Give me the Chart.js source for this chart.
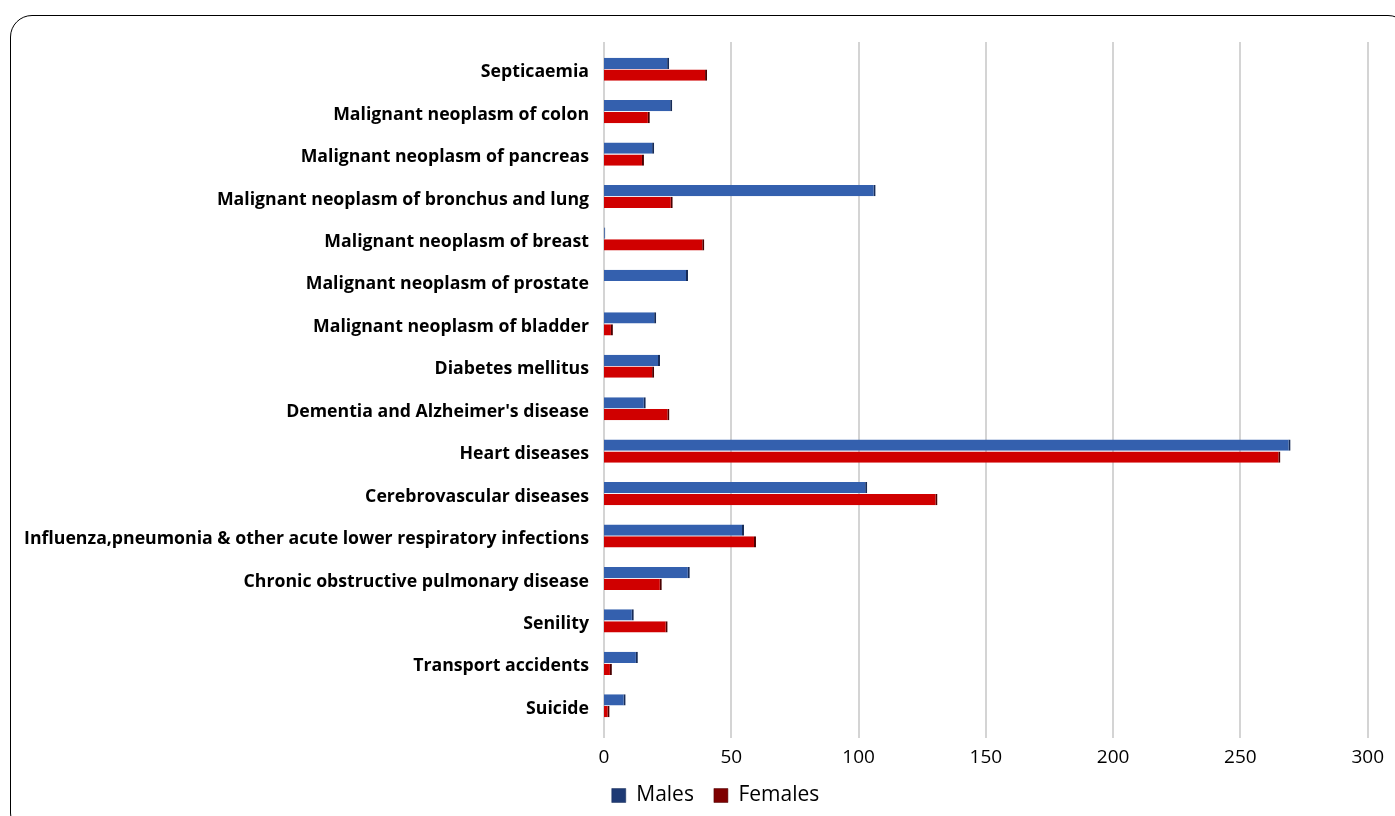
<!DOCTYPE html>
<html lang="en">
<head>
    <meta charset="UTF-8">
    <title>Causes of death by sex</title>
    <script src="https://cdn.jsdelivr.net/npm/chart.js"></script>
    <style>
        html, body { margin: 0; padding: 0; background: #fff; }
        .frame {
            position: absolute; left: 10px; top: 15px; width: 1400px; height: 820px;
            border: 1.5px solid #000; border-radius: 22px; box-sizing: border-box;
        }
        .wrap { position: absolute; left: 0; top: 0; width: 1395px; height: 816px; }
    </style>
</head>
<body>
    <div class="frame"></div>
    <div class="wrap"><canvas id="deathChart"></canvas></div>

    <script>
        const causes = [
            "Septicaemia",
            "Malignant neoplasm of colon",
            "Malignant neoplasm of pancreas",
            "Malignant neoplasm of bronchus and lung",
            "Malignant neoplasm of breast",
            "Malignant neoplasm of prostate",
            "Malignant neoplasm of bladder",
            "Diabetes mellitus",
            "Dementia and Alzheimer's disease",
            "Heart diseases",
            "Cerebrovascular diseases",
            "Influenza,pneumonia & other acute lower respiratory infections",
            "Chronic obstructive pulmonary disease",
            "Senility",
            "Transport accidents",
            "Suicide"
        ];
        const males =   [25.6, 26.8, 19.7, 106.7, 0.5, 33, 20.5, 22, 16.4, 269.7, 103.4, 55, 33.7, 11.7, 13.3, 8.5];
        const females = [40.5, 18, 15.7, 27, 39.4, 0, 3.5, 19.7, 25.7, 265.7, 131, 59.7, 22.7, 25, 3.1, 2.2];
        const xTicks = [0, 50, 100, 150, 200, 250, 300];

        // vertical 3D-ish shading: light top rim, body, dark bottom
        function barFill(rim, body, dark) {
            return function (ctx) {
                const el = ctx.element;
                if (!el || el.y === undefined || !el.height) return body;
                const top = el.y - el.height / 2, bottom = el.y + el.height / 2;
                const g = ctx.chart.ctx.createLinearGradient(0, top, 0, bottom);
                g.addColorStop(0, rim);
                g.addColorStop(0.15, body);
                g.addColorStop(0.6, body);
                g.addColorStop(1, dark);
                return g;
            };
        }

        // grid lines a bit longer than the plot, like the office chart
        const gridPlugin = {
            id: "longGrid",
            beforeDatasetsDraw(chart) {
                const c = chart.ctx, area = chart.chartArea, x = chart.scales.x;
                c.save();
                c.strokeStyle = "#D4D4D4";
                c.lineWidth = 2;
                xTicks.forEach(v => {
                    const px = Math.round(x.getPixelForValue(v));
                    c.beginPath();
                    c.moveTo(px, area.top - 6);
                    c.lineTo(px, area.bottom + 11);
                    c.stroke();
                });
                c.restore();
            }
        };

        // legend sits a little right of the page centre
        const legendShift = {
            id: "legendShift",
            afterLayout(chart) {
                chart.legend.left += 28;
                chart.legend.right += 28;
            }
        };

        new Chart(document.getElementById("deathChart"), {
            type: "bar",
            data: {
                labels: causes,
                datasets: [
                    {
                        label: "Males",
                        data: males,
                        backgroundColor: barFill("#86A3D8", "#3460AE", "#1E3A74"),
                        borderColor: "#172C58",
                        borderWidth: { top: 0, bottom: 0, left: 0, right: 2 },
                        borderSkipped: false,
                        categoryPercentage: 0.56,
                        barPercentage: 0.95
                    },
                    {
                        label: "Females",
                        data: females,
                        backgroundColor: barFill("#F08A8A", "#D00000", "#7E0000"),
                        borderColor: "#4A0000",
                        borderWidth: { top: 0, bottom: 0, left: 0, right: 2 },
                        borderSkipped: false,
                        categoryPercentage: 0.56,
                        barPercentage: 0.95
                    }
                ]
            },
            options: {
                indexAxis: "y",
                responsive: true,
                maintainAspectRatio: false,
                animation: false,
                layout: { padding: { top: 48, right: 20, bottom: 0, left: 0 } },
                scales: {
                    x: {
                        min: 0, max: 300,
                        afterBuildTicks: function (scale) {
                            scale.ticks = xTicks.map(v => ({ value: v }));
                        },
                        afterFit: function (scale) { scale.height = 38; },
                        grid: { display: false },
                        border: { display: false },
                        ticks: { color: "#000", padding: 11, font: { family: "Open Sans", size: 19 } }
                    },
                    y: {
                        afterFit: function (scale) { scale.width = 604; },
                        grid: { display: false, drawTicks: false },
                        border: { display: false },
                        ticks: {
                            color: "#000", padding: 15, autoSkip: false, labelOffset: 3,
                            font: { family: "Open Sans", size: 17.7, weight: "bold" }
                        }
                    }
                },
                plugins: {
                    legend: {
                        position: "bottom",
                        labels: {
                            boxWidth: 14, boxHeight: 14, color: "#000", padding: 20,
                            font: { family: "Open Sans", size: 21 }
                        }
                    },
                    tooltip: { enabled: false }
                }
            },
            plugins: [gridPlugin, legendShift]
        });
    </script>
</body>
</html>
